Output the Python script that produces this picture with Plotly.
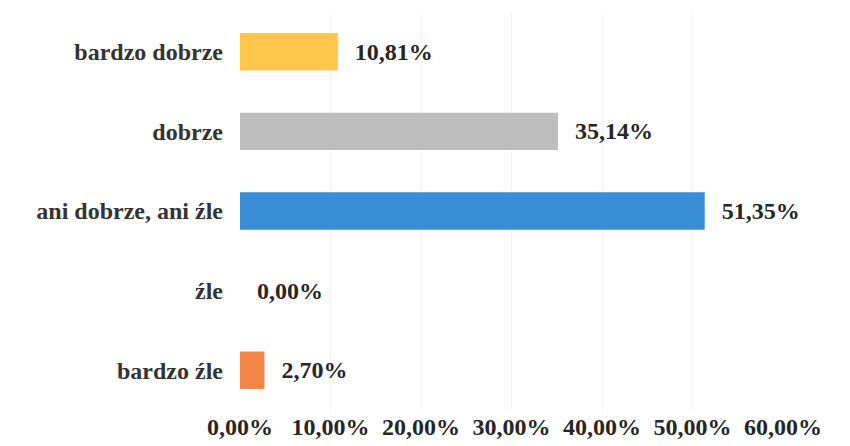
import plotly.graph_objects as go

# Answer categories (top to bottom) and their shares in percent
categories = ['bardzo dobrze', 'dobrze', 'ani dobrze, ani źle', 'źle', 'bardzo źle']
shares = [10.81, 35.14, 51.35, 0.00, 2.70]
colors = ['#FFC64C', '#BEBEBE', '#3A8ED6', '#D0D0D0', '#F48647']

tick_values = [0, 10, 20, 30, 40, 50, 60]
tick_labels = ['0,00%', '10,00%', '20,00%', '30,00%', '40,00%', '50,00%', '60,00%']

serif = 'Liberation Serif, Times New Roman, serif'

fig = go.Figure(go.Bar(
    y=categories,
    x=shares,
    orientation='h',
    marker=dict(color=colors, line=dict(width=0)),
    width=0.47,
    texttemplate='\u00a0\u00a0\u200a%{x:.2f}%',
    textposition='outside',
    cliponaxis=False,
    textfont=dict(family=serif, size=24, color='#262626', weight='bold'),
))

# the page body adds an 8px offset, so the figure is 8px smaller
fig.update_layout(
    width=842,
    height=438,
    margin=dict(l=232, r=67, t=4, b=36),
    paper_bgcolor='white',
    plot_bgcolor='white',
    separators=', ',
    showlegend=False,
    font=dict(family=serif, size=24, color='#333333', weight='bold'),
)

fig.update_xaxes(
    range=[0, 60],
    tickmode='array',
    tickvals=tick_values,
    ticktext=tick_labels,
    showgrid=True,
    gridcolor='#F3F3F3',
    zeroline=False,
    showline=False,
    automargin=False,
    tickfont=dict(family=serif, size=24, color='#262626', weight='bold'),
)

fig.update_yaxes(
    autorange='reversed',
    showgrid=False,
    showline=False,
    ticks='',
    ticklabelstandoff=16,
    automargin=False,
    tickfont=dict(family=serif, size=24, color='#333333', weight='bold'),
)

fig.write_html("out.html")
